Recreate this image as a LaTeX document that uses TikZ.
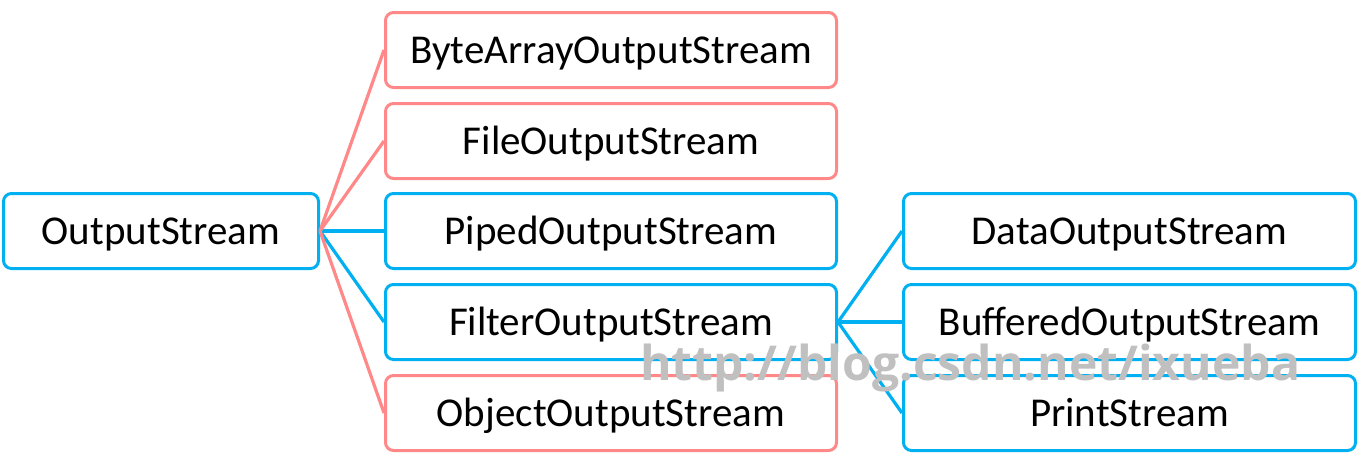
\documentclass[tikz,border=0pt]{standalone}
\usepackage{fontspec}
\setmainfont{Carlito}
\newfontfamily\wmfont{Open Sans}
\definecolor{pinkc}{RGB}{255,136,136}
\definecolor{bluec}{RGB}{0,176,240}
\definecolor{wmgray}{RGB}{192,192,192}
\begin{document}
\begin{tikzpicture}[x=1pt,y=-1pt,
  cls/.style={draw, rectangle, rounded corners=8pt, line width=3pt, fill=white,
    inner sep=0pt, minimum height=75pt, text height=27pt, text depth=0pt,
    font=\fontsize{41}{48}\selectfont, text=black},
  pinkbox/.style={cls, draw=pinkc},
  bluebox/.style={cls, draw=bluec},
  pinkline/.style={draw=pinkc, line width=3.2pt},
  blueline/.style={draw=bluec, line width=3.2pt}]
\useasboundingbox (0,0) rectangle (1360,464);
% nodes
\node[bluebox, minimum width=315pt] (os) at (161,231) {OutputStream};
\node[pinkbox, minimum width=451pt] (ba) at (611,50) {ByteArrayOutputStream};
\node[pinkbox, minimum width=451pt] (fo) at (611,141) {FileOutputStream};
\node[bluebox, minimum width=451pt] (po) at (611,231) {PipedOutputStream};
\node[bluebox, minimum width=451pt] (fi) at (611,322) {FilterOutputStream};
\node[pinkbox, minimum width=451pt] (ob) at (611,413) {ObjectOutputStream};
\node[bluebox, minimum width=452pt] (da) at (1129.5,231) {DataOutputStream};
\node[bluebox, minimum width=452pt] (bu) at (1129.5,322) {BufferedOutputStream};
\node[bluebox, minimum width=452pt] (pr) at (1129.5,413) {PrintStream};
% connectors
\draw[blueline] (os.east) -- (po.west);
\draw[blueline] (os.east) -- (fi.west);
\draw[pinkline] (os.east) -- (ba.west);
\draw[pinkline] (os.east) -- (fo.west);
\draw[pinkline] (os.east) -- (ob.west);
\draw[blueline] (fi.east) -- (da.west);
\draw[blueline] (fi.east) -- (bu.west);
\draw[blueline] (fi.east) -- (pr.west);
% watermark
\node[anchor=base west, inner sep=0pt, text=wmgray] (wm) at (640,380)
  {\resizebox{660pt}{!}{\wmfont\bfseries http://blog.csdn.net/ixueba}};
\end{tikzpicture}
\end{document}
